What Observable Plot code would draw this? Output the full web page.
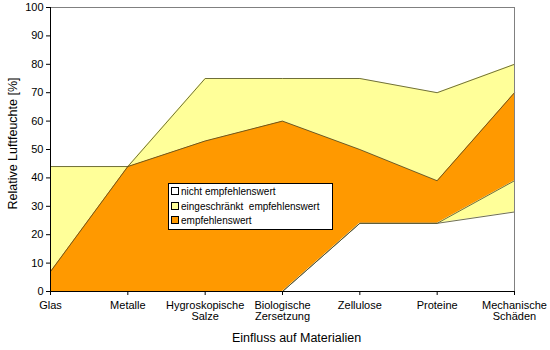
<!DOCTYPE html>
<html><head><meta charset="utf-8">
<script src="https://cdn.jsdelivr.net/npm/d3@7"></script>
<script src="https://cdn.jsdelivr.net/npm/@observablehq/plot@0.6"></script>
<style>
body{margin:0;background:#fff;font-family:"Liberation Sans",Arial,sans-serif}
#wrap{position:relative;width:550px;height:350px}
#legend{position:absolute;left:168px;top:183px;width:165px;height:47px;background:#fff;border:1px solid #000;box-sizing:border-box;font-size:10px;padding:1px 0 0 2px;line-height:14.5px;color:#000}
#legend .sw{display:inline-block;width:6px;height:6px;border:1px solid #000;margin-right:2px;vertical-align:0px}
</style></head>
<body><div id="wrap"><div id="legend"></div></div>
<script>
const categories = ["Glas","Metalle","Hygroskopische\nSalze","Biologische\nZersetzung","Zellulose","Proteine","Mechanische\nSchäden"];
// boundaries (relative humidity %)
const nichtTop      = [0, 0, 0, 0, 24, 24, 28];   // top of lower "nicht empfehlenswert" band
const orangeLow     = [0, 0, 0, 0, 24, 24, 39];   // lower edge of "empfehlenswert"
const orangeHigh    = [7, 44, 53, 60, 50, 39, 70]; // upper edge of "empfehlenswert"
const yellowHigh    = [44, 44, 75, 75, 75, 70, 80]; // upper edge of "eingeschränkt empfehlenswert"
const yTicks = [0,10,20,30,40,50,60,70,80,90,100];
const legendItems = [["nicht empfehlenswert","#ffffff"],["eingeschränkt  empfehlenswert","#ffff99"],["empfehlenswert","#ff9900"]];

const rows = categories.map((c,i)=>({i, c, nt:nichtTop[i], ol:orangeLow[i], oh:orangeHigh[i], yh:yellowHigh[i]}));
const lineCol = "#4a4a22";

const chart = Plot.plot({
  width:550, height:350,
  marginLeft:50, marginRight:36, marginTop:7, marginBottom:59,
  style:{fontFamily:"Liberation Sans, Arial, sans-serif", fontSize:"11px", color:"#000", background:"#fff"},
  x:{type:"linear", domain:[0,categories.length-1]},
  y:{domain:[0,100]},
  marks:[
    Plot.areaY(rows,{x:"i", y1:"nt", y2:"ol", fill:"#ffff99"}),
    Plot.areaY(rows,{x:"i", y1:"ol", y2:"oh", fill:"#ff9900"}),
    Plot.areaY(rows,{x:"i", y1:"oh", y2:"yh", fill:"#ffff99"}),
    Plot.lineY(rows,{x:"i", y:"nt", stroke:lineCol, strokeWidth:0.8}),
    Plot.lineY(rows,{x:"i", y:"ol", stroke:lineCol, strokeWidth:0.8}),
    Plot.lineY(rows,{x:"i", y:"oh", stroke:lineCol, strokeWidth:0.8}),
    Plot.lineY(rows,{x:"i", y:"yh", stroke:lineCol, strokeWidth:0.8}),
    Plot.ruleY([100],{stroke:"#808080"}),
    Plot.ruleX([categories.length-1],{stroke:"#808080"}),
    Plot.ruleY([0],{stroke:"#000"}),
    Plot.ruleX([0],{stroke:"#000"}),
    Plot.axisY({ticks:yTicks, tickSize:4, tickPadding:3, label:null, fontSize:11}),
    Plot.axisX({ticks:d3.range(categories.length), tickFormat:i=>categories[i], tickSize:4, tickPadding:6, label:null, fontSize:11}),
    Plot.text(["Relative Luftfeuchte [%]"],{frameAnchor:"left", textAnchor:"middle", dx:-38, dy:-6, rotate:-90, fontSize:12.5, fill:"#000"}),
    Plot.text(["Einfluss auf Materialien"],{frameAnchor:"bottom", dx:14, dy:50, fontSize:12.5, fill:"#000"})
  ]
});
document.getElementById("wrap").prepend(chart);
const lg = document.getElementById("legend");
legendItems.forEach(([t,c])=>{
  const d=document.createElement("div");
  d.style.whiteSpace="pre";
  d.innerHTML=`<span class="sw" style="background:${c}"></span>${t}`;
  lg.appendChild(d);
});
</script></body></html>
